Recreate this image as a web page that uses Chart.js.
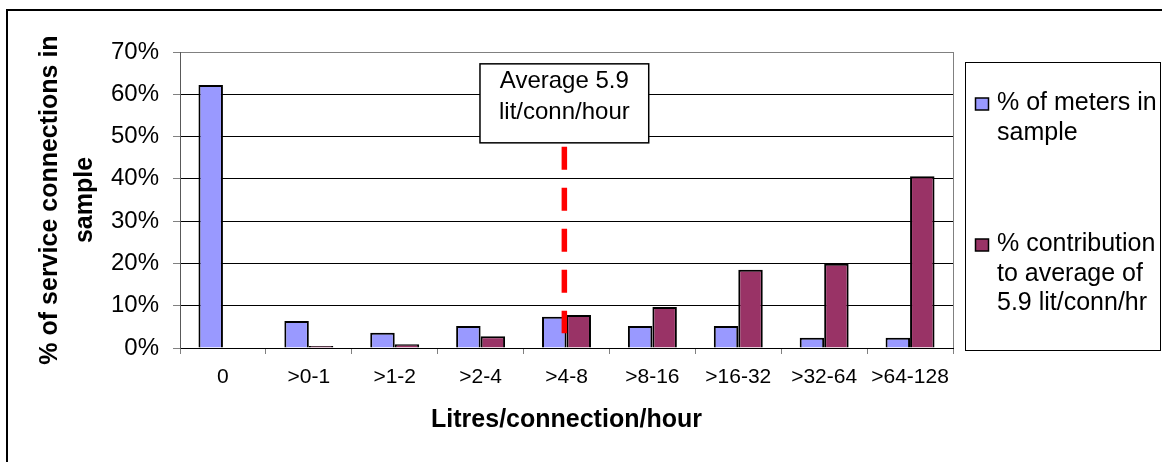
<!DOCTYPE html>
<html>
<head>
<meta charset="utf-8">
<script src="https://cdn.jsdelivr.net/npm/chart.js@4.4.1/dist/chart.umd.min.js"></script>
<style>
  html, body { margin: 0; padding: 0; background: #fff; }
  canvas { display: block; }
</style>
</head>
<body>
<canvas id="chart" width="1162" height="462"></canvas>
<script>
// Flow-rate bins (litres per connection per hour)
const categories = ['0', '>0-1', '>1-2', '>2-4', '>4-8', '>8-16', '>16-32', '>32-64', '>64-128'];
// Share of sampled meters falling in each bin (%)
const metersPct = [62.2, 6.4, 3.6, 5.2, 7.4, 5.2, 5.2, 2.4, 2.4];
// Share of the average flow contributed by each bin (%)
const contributionPct = [0, 0.5, 0.9, 2.8, 7.8, 9.7, 18.5, 19.9, 40.6];
// Value axis ticks (%)
const yTicks = [0, 10, 20, 30, 40, 50, 60, 70];
// Series names, and how they wrap inside the key
const seriesNames = ['% of meters in sample', '% contribution to average of 5.9 lit/conn/hr'];
const legendLines = [['% of meters in', 'sample'], ['% contribution', 'to average of', '5.9 lit/conn/hr']];
// Average flow and the bin it falls in
const averageLitres = 5.9;
const averageBin = { index: 4, low: 4, high: 8 };
// Vertical extent of the average marker and top of its callout (% units)
const markerFrom = 47.6;
const markerTo = 3.5;
const calloutTop = 67.2;

const FONT = '"Liberation Sans", Arial, Helvetica, sans-serif';
const BLUE = '#9999FF';
const PLUM = '#993366';

const decorations = {
  id: 'decorations',
  beforeDraw(chart) {
    const { ctx, width, height } = chart;
    ctx.save();
    ctx.fillStyle = '#fff';
    ctx.fillRect(0, 0, width, height);
    ctx.strokeStyle = '#000';
    ctx.lineWidth = 2;
    ctx.strokeRect(7, 10, width + 10, height + 10);
    ctx.restore();
  },
  afterDatasetsDraw(chart) {
    const { ctx, chartArea } = chart;
    const xs = chart.scales.x, ys = chart.scales.y;

    // right-hand border of the plot area
    ctx.save();
    ctx.strokeStyle = '#808080';
    ctx.lineWidth = 1;
    ctx.beginPath();
    ctx.moveTo(Math.round(chartArea.right) + 0.5, chartArea.top);
    ctx.lineTo(Math.round(chartArea.right) + 0.5, chartArea.bottom);
    ctx.stroke();

    // average marker: placed within its bin in proportion to the value
    const frac = (averageLitres - averageBin.low) / (averageBin.high - averageBin.low);
    const mx = xs.getPixelForValue(averageBin.index - 0.5 + frac);
    ctx.strokeStyle = '#FF0000';
    ctx.lineWidth = 5.5;
    ctx.setLineDash([23, 18]);
    ctx.beginPath();
    ctx.moveTo(mx, ys.getPixelForValue(markerFrom));
    ctx.lineTo(mx, ys.getPixelForValue(markerTo));
    ctx.stroke();
    ctx.setLineDash([]);

    // callout box
    const lines = ['Average ' + averageLitres, 'lit/conn/hour'];
    ctx.font = '24px ' + FONT;
    const tw = Math.max(...lines.map(l => ctx.measureText(l).width));
    const bw = tw + 38, bh = 79;
    const bx = mx - bw / 2, by = ys.getPixelForValue(calloutTop);
    ctx.fillStyle = '#fff';
    ctx.fillRect(bx, by, bw, bh);
    ctx.strokeStyle = '#000';
    ctx.lineWidth = 1.5;
    ctx.strokeRect(bx, by, bw, bh);
    ctx.fillStyle = '#000';
    ctx.textAlign = 'center';
    ctx.textBaseline = 'middle';
    ctx.fillText(lines[0], mx, by + 18);
    ctx.fillText(lines[1], mx, by + 49);
    ctx.restore();
  },
  afterDraw(chart) {
    const { ctx, chartArea } = chart;
    const lx = chartArea.right + 12, ly = chartArea.top + 10;
    const lw = 195, lh = chartArea.bottom - chartArea.top - 8;
    ctx.save();
    ctx.fillStyle = '#fff';
    ctx.fillRect(lx, ly, lw, lh);
    ctx.strokeStyle = '#000';
    ctx.lineWidth = 1;
    ctx.strokeRect(Math.round(lx) + 0.5, Math.round(ly) + 0.5, lw, lh);

    ctx.font = '25px ' + FONT;
    ctx.textAlign = 'left';
    ctx.textBaseline = 'alphabetic';
    const firstBaselines = [ly + 48, ly + 189];
    chart.data.datasets.forEach((ds, i) => {
      const b = firstBaselines[i];
      ctx.fillStyle = ds.backgroundColor;
      ctx.fillRect(lx + 10.5, b - 12, 13, 12);
      ctx.strokeStyle = '#000';
      ctx.lineWidth = 1.5;
      ctx.strokeRect(lx + 10.5, b - 12, 13, 12);
      ctx.fillStyle = '#000';
      legendLines[i].forEach((t, k) => ctx.fillText(t, lx + 32, b + k * 29.5));
    });
    ctx.restore();
  }
};

new Chart(document.getElementById('chart'), {
  type: 'bar',
  data: {
    labels: categories,
    datasets: [
      { label: seriesNames[0], data: metersPct, backgroundColor: BLUE, borderColor: '#000', borderWidth: 2 },
      { label: seriesNames[1], data: contributionPct, backgroundColor: PLUM, borderColor: '#000', borderWidth: 2 }
    ]
  },
  options: {
    responsive: false,
    animation: false,
    events: [],
    datasets: { bar: { categoryPercentage: 0.57, barPercentage: 1.0 } },
    layout: { padding: { left: 0, top: 52, right: 209, bottom: 0 } },
    plugins: { legend: { display: false }, tooltip: { enabled: false } },
    scales: {
      x: {
        afterFit(s) { s.height = 114; },
        grid: { drawOnChartArea: false, drawTicks: true, tickLength: 6, color: '#808080', offset: true },
        border: { color: '#000', width: 1 },
        ticks: { color: '#000', font: { family: FONT, size: 21 }, padding: 11, maxRotation: 0, autoSkip: false },
        title: {
          display: true, text: 'Litres/connection/hour', color: '#000',
          font: { family: FONT, size: 25, weight: 'bold', lineHeight: 1.2 },
          padding: { top: 0, bottom: 27 }
        }
      },
      y: {
        min: yTicks[0], max: yTicks[yTicks.length - 1],
        afterFit(s) { s.width = 180; },
        afterBuildTicks(s) { s.ticks = yTicks.map(v => ({ value: v })); },
        grid: {
          color: c => (c.tick && c.tick.value === yTicks[yTicks.length - 1]) ? '#808080' : '#000',
          tickColor: '#808080', tickLength: 7, lineWidth: 1
        },
        border: { color: '#595959', width: 1 },
        ticks: { color: '#000', font: { family: FONT, size: 24 }, padding: 14, callback: v => v + '%' },
        title: {
          display: true, text: ['% of service connections in', 'sample'], color: '#000',
          font: { family: FONT, size: 25, weight: 'bold', lineHeight: 1.4 },
          padding: { top: 33, bottom: 0 }
        }
      }
    }
  },
  plugins: [decorations]
});
</script>
</body>
</html>
